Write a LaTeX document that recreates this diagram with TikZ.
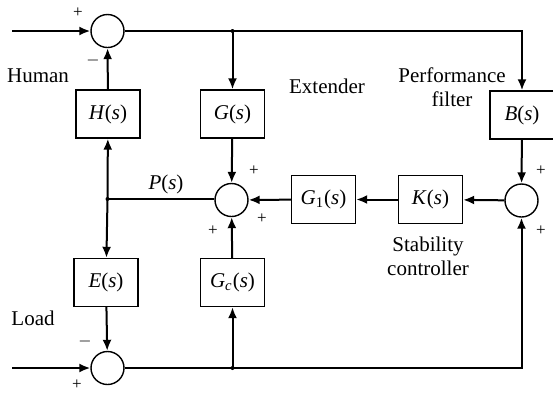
\documentclass[tikz,border=0pt]{standalone}
\usepackage{fontspec}
\setmainfont{Liberation Serif}
\usetikzlibrary{arrows.meta}
\newcommand{\tf}[1]{\textit{#1}(\textit{s})}
\begin{document}
\begin{tikzpicture}[x=0.5pt,y=-0.5pt,
  font=\fontsize{10.5}{12}\selectfont,
  blk/.style={draw,line width=0.7pt,minimum width=32pt,minimum height=24pt,inner sep=0pt},
  sumc/.style={draw,circle,line width=0.7pt,minimum size=16.5pt,inner sep=0pt},
  sig/.style={line width=1pt,-{Latex[length=5.5pt,width=4.5pt]}},
  wire/.style={line width=1pt},
  dotj/.style={circle,fill,inner sep=0pt,minimum size=2pt},
  lbl/.style={inner sep=0pt},
  sgn/.style={inner sep=0pt,font=\fontsize{8.5}{9}\selectfont}]
\useasboundingbox (0,0) rectangle (553,393);
% summing junctions
\node[sumc] (s1) at (107.5,31) {};
\node[sumc] (s2) at (231.5,200) {};
\node[sumc] (s3) at (521.5,200.5) {};
\node[sumc] (s4) at (107.5,368) {};
% blocks
\node[blk] (H) at (108,114) {\tf{H}};
\node[blk] (G) at (232.5,114) {\tf{G}};
\node[blk] (B) at (522,115) {\tf{B}};
\node[blk] (G1) at (323.5,199.5) {\textit{G}\textsubscript{1}(\textit{s})};
\node[blk] (K) at (430.5,199.5) {\tf{K}};
\node[blk] (E) at (106,282.5) {\tf{E}};
\node[blk] (Gc) at (232.5,282.5) {\textit{G}\textsubscript{\textit{c}}(\textit{s})};
% coordinates
\coordinate (in1) at (12,31);
\coordinate (in2) at (12,368);
\coordinate (jt) at (232.5,31);
\coordinate (ct) at (522,31);
\coordinate (jm) at (107.5,199);
\coordinate (jb) at (232.5,368);
\coordinate (cb) at (521.5,368);
% top path
\draw[sig] (in1) -- (s1);
\draw[wire] (s1) -- (jt);
\draw[sig] (jt) -- (ct) -- (B);
\draw[sig] (jt) -- (G);
\node[dotj] at (jt) {};
\draw[sig] (H) -- (s1);
\draw[sig] (G) -- (s2);
\draw[sig] (B) -- (s3);
% middle path
\draw[sig] (s3) -- (K);
\draw[sig] (K) -- (G1);
\draw[sig] (G1) -- (s2);
\draw[wire] (s2.west |- jm) -- (jm);
\draw[sig] (jm) -- (H);
\draw[sig] (jm) -- (E);
\node[dotj] at (jm) {};
% bottom path
\draw[sig] (in2) -- (s4);
\draw[sig] (E) -- (s4);
\draw[wire] (s4) -- (jb);
\draw[sig] (jb) -- (cb) -- (s3);
\draw[sig] (jb) -- (Gc);
\node[dotj] at (jb) {};
\draw[sig] (Gc) -- (s2);
% signs
\node[sgn] at (78,13) {+};
\node[sgn] at (93,60) {$-$};
\node[sgn] at (254,171) {+};
\node[sgn] at (262,219) {+};
\node[sgn] at (213,231) {+};
\node[sgn] at (541,171) {+};
\node[sgn] at (541,231) {+};
\node[sgn] at (85,341) {$-$};
\node[sgn] at (77,385) {+};
% texts
\node[lbl] at (38,76) {Human};
\node[lbl] at (327,86) {Extender};
\node[lbl,align=center] at (452,87) {Performance\\filter};
\node[lbl] at (166,184) {\textit{P}(\textit{s})};
\node[lbl,align=center] at (428,256) {Stability\\controller};
\node[lbl] at (33,318) {Load};
\end{tikzpicture}
\end{document}
